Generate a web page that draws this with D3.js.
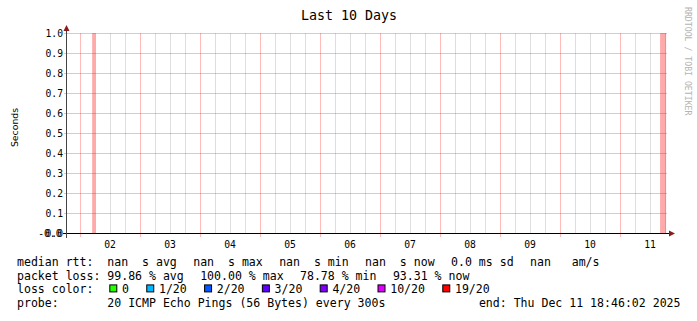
<!DOCTYPE html>
<html>
<head>
<meta charset="utf-8">
<style>
  body { margin: 0; background: #fff; }
  svg { display: block; }
  text { font-family: "DejaVu Sans Mono", monospace; white-space: pre; }
</style>
<title>Last 10 Days</title>
</head>
<body>
<svg id="chart"></svg>
<script src="https://cdn.jsdelivr.net/npm/d3@7"></script>
<script>
// ============ Data ============
var END_TIME = Date.UTC(2025, 11, 11, 18, 46, 2);
var START_TIME = END_TIME - 10 * 864e5;

// periods drawn as full-height loss bars (start, end)
var lossStarts = [Date.UTC(2025, 11, 2, 4, 50), Date.UTC(2025, 11, 11, 16, 0)];
var lossEnds   = [Date.UTC(2025, 11, 2, 6, 10), Date.UTC(2025, 11, 11, 18, 24)];
var lossValues = [1.0, 1.0];

var dayLabels = ['02', '03', '04', '05', '06', '07', '08', '09', '10', '11'];
var yTicks = [0, 0.1, 0.2, 0.3, 0.4, 0.5, 0.6, 0.7, 0.8, 0.9, 1.0];
var yTickLabels = ['0.0', '0.1', '0.2', '0.3', '0.4', '0.5', '0.6', '0.7', '0.8', '0.9', '1.0'];

var rttLegend = ['median rtt:', 'nan  s avg', 'nan  s max', 'nan  s min', 'nan  s now', '0.0 ms sd', 'nan   am/s'];
var lossLegend = ['packet loss:', '99.86 % avg', '100.00 % max', '78.78 % min', '93.31 % now'];
var lossColorLabels = ['0', '1/20', '2/20', '3/20', '4/20', '10/20', '19/20'];
var lossColorValues = ['#26ff00', '#00b8ff', '#0059ff', '#5e00ff', '#7e00ff', '#dd00ff', '#ff0000'];
var probeText = ['probe:', '20 ICMP Echo Pings (56 Bytes) every 300s'];
var endText = 'end: Thu Dec 11 18:46:02 2025';

// ============ Layout ============
var W = 697, H = 321;
var plot = {left: 67, right: 667, top: 33, bottom: 233};
var LEGEND_X = 17, LEGEND_COL = 107.3, LEGEND_GAP = 16.4;
var rowY = [265.5, 279.5, 293.4, 307.4];

var svg = d3.select('#chart').attr('width', W).attr('height', H);

var x = d3.scaleUtc().domain([START_TIME, END_TIME]).range([plot.left, plot.right]);
var y = d3.scaleLinear().domain([0, 1]).range([plot.bottom, plot.top]);

// ============ Loss bars ============
svg.append('g').selectAll('rect')
    .data(lossStarts)
    .enter().append('rect')
        .attr('x', d => x(d))
        .attr('width', (d, i) => x(lossEnds[i]) - x(d))
        .attr('y', (d, i) => y(lossValues[i]))
        .attr('height', (d, i) => y(0) - y(lossValues[i]))
        .attr('fill', '#ffaaaa');

// ============ Grid ============
var minorTimes = d3.utcHour.every(6).range(new Date(START_TIME), new Date(END_TIME))
    .filter(d => d.getUTCHours() !== 0);
var majorTimes = d3.utcDay.range(new Date(START_TIME), new Date(END_TIME));

svg.append('g').selectAll('line')
    .data(minorTimes)
    .enter().append('line')
        .attr('x1', d => Math.round(x(d)) + 0.5)
        .attr('x2', d => Math.round(x(d)) + 0.5)
        .attr('y1', plot.top)
        .attr('y2', plot.bottom)
        .attr('stroke', 'rgba(0,0,0,0.13)');

svg.append('g').selectAll('line')
    .data(majorTimes)
    .enter().append('line')
        .attr('x1', d => Math.round(x(d)) + 0.5)
        .attr('x2', d => Math.round(x(d)) + 0.5)
        .attr('y1', plot.top)
        .attr('y2', plot.bottom + 4)
        .attr('stroke', 'rgba(255,0,0,0.27)');

svg.append('g').selectAll('line')
    .data(yTicks)
    .enter().append('line')
        .attr('x1', plot.left - 3)
        .attr('x2', plot.right)
        .attr('y1', d => Math.round(y(d)) + 0.5)
        .attr('y2', d => Math.round(y(d)) + 0.5)
        .attr('stroke', 'rgba(255,0,0,0.27)');

// ============ Axes ============
svg.append('line')
    .attr('x1', plot.left - 4).attr('x2', plot.right + 3)
    .attr('y1', plot.bottom + 0.5).attr('y2', plot.bottom + 0.5)
    .attr('stroke', '#000');
svg.append('line')
    .attr('x1', plot.left - 0.5).attr('x2', plot.left - 0.5)
    .attr('y1', plot.bottom + 5).attr('y2', plot.top - 3)
    .attr('stroke', '#444');
svg.append('path')
    .attr('d', `M${plot.right + 2},${plot.bottom - 2.5} L${plot.right + 8},${plot.bottom + 0.5} L${plot.right + 2},${plot.bottom + 3.5} Z`)
    .attr('fill', '#8b1a1a');
svg.append('path')
    .attr('d', `M${plot.left - 3.5},${plot.top - 2} L${plot.left - 0.5},${plot.top - 8} L${plot.left + 2.5},${plot.top - 2} Z`)
    .attr('fill', '#8b1a1a');

// y labels
svg.append('g').selectAll('text')
    .data(yTicks)
    .enter().append('text')
        .attr('x', plot.left - 4)
        .attr('y', d => y(d) + 3.6)
        .attr('text-anchor', 'end')
        .style('font-size', '9.7px')
        .attr('fill', '#000')
        .text((d, i) => yTickLabels[i]);
// rrdtool also prints a "-0.0" at the origin
svg.append('text')
    .attr('x', plot.left - 5.5)
    .attr('y', y(0) + 3.6)
    .attr('text-anchor', 'end')
    .style('font-size', '9.7px')
    .text('-0.0');

// x labels at noon of each day
svg.append('g').selectAll('text')
    .data(dayLabels)
    .enter().append('text')
        .attr('x', d => x(Date.UTC(2025, 11, +d, 12)))
        .attr('y', 247.5)
        .attr('text-anchor', 'middle')
        .style('font-size', '9.7px')
        .text(d => d);

// ============ Titles ============
svg.append('text')
    .attr('x', 349).attr('y', 20.3)
    .attr('text-anchor', 'middle')
    .style('font-size', '13.3px')
    .text('Last 10 Days');

svg.append('text')
    .attr('transform', 'translate(17.6, 127.5) rotate(-90)')
    .attr('text-anchor', 'middle')
    .style('font-family', '"DejaVu Sans", sans-serif')
    .style('font-size', '9.3px')
    .text('Seconds');

svg.append('text')
    .attr('transform', 'translate(684.5, 7) rotate(90)')
    .attr('text-anchor', 'start')
    .style('font-size', '8.2px')
    .attr('fill', '#b4b4b4')
    .text('RRDTOOL / TOBI OETIKER');

// ============ Legend ============
function legendRow(items, yPos) {
    var g = svg.append('g');
    var xPos = LEGEND_X;
    items.forEach(function(item, i) {
        if (i === 1) xPos = LEGEND_COL;
        var t = g.append('text')
            .attr('x', xPos).attr('y', yPos)
            .style('font-size', '11.55px')
            .text(item);
        xPos += t.node().getComputedTextLength() + LEGEND_GAP;
    });
}
legendRow(rttLegend, rowY[0]);
legendRow(lossLegend, rowY[1]);

svg.append('text')
    .attr('x', LEGEND_X).attr('y', rowY[2])
    .style('font-size', '11.55px')
    .text('loss color:');
var cx = LEGEND_COL + 2;
var colorG = svg.append('g');
lossColorLabels.forEach(function(lab, i) {
    colorG.append('rect')
        .attr('x', cx + 0.5).attr('y', rowY[2] - 8.5)
        .attr('width', 7).attr('height', 7)
        .attr('fill', lossColorValues[i])
        .attr('stroke', '#000');
    var t = colorG.append('text')
        .attr('x', cx + 12.7).attr('y', rowY[2])
        .style('font-size', '11.55px')
        .text(lab);
    cx += 12.7 + t.node().getComputedTextLength() + 17.3;
});

legendRow(probeText, rowY[3]);
svg.append('text')
    .attr('x', 680.5).attr('y', rowY[3])
    .attr('text-anchor', 'end')
    .style('font-size', '11.55px')
    .text(endText);
</script>
</body>
</html>
